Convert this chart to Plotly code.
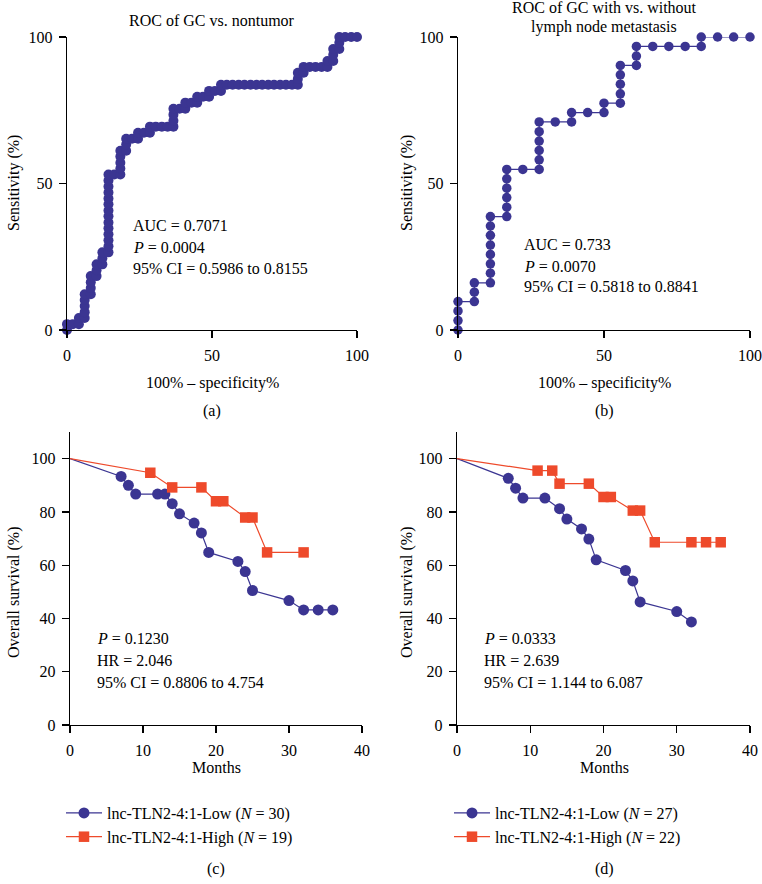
import plotly.graph_objects as go

W, H = 762, 884
BLUE = "#3B3592"
RED = "#EE4A2B"
FONT = "Liberation Serif"
FS = 16

# ---------- (a) ROC of GC vs. nontumor ----------
roc_a_fpr = [0, 0, 2.0, 4.1, 4.1,
             6.1, 6.1, 6.1, 6.1, 6.1,
             8.2, 8.2, 8.2, 8.2,
             10.2, 10.2, 10.2,
             12.2, 12.2, 12.2,
             14.3, 14.3, 14.3, 14.3, 14.3, 14.3, 14.3, 14.3, 14.3, 14.3, 14.3, 14.3, 14.3, 14.3,
             16.3,
             18.4, 18.4, 18.4, 18.4, 18.4,
             20.4, 20.4, 20.4,
             22.4, 24.5, 24.5, 26.5, 28.6, 28.6,
             30.6, 32.7, 34.7,
             36.7, 36.7, 36.7, 36.7,
             38.8, 40.8, 40.8, 42.9, 44.9, 44.9, 46.9, 49.0, 49.0, 51.0, 53.1, 53.1,
             55.1, 57.1, 59.2, 61.2, 63.3, 65.3, 67.3, 69.4, 71.4, 73.5, 75.5, 77.6,
             79.6, 79.6, 79.6, 81.6, 81.6,
             83.7, 85.7, 87.8, 89.8, 89.8,
             91.8, 91.8, 91.8, 93.9, 93.9, 93.9,
             95.9, 98.0, 100]
roc_a_sens = [0, 2.0, 2.0, 2.0, 4.1,
              4.1, 6.1, 8.2, 10.2, 12.2,
              12.2, 14.3, 16.3, 18.4,
              18.4, 20.4, 22.4,
              22.4, 24.5, 26.5,
              26.5, 28.6, 30.6, 32.7, 34.7, 36.7, 38.8, 40.8, 42.9, 44.9, 46.9, 49.0, 51.0, 53.1,
              53.1,
              53.1, 55.1, 57.1, 59.2, 61.2,
              61.2, 63.3, 65.3,
              65.3, 65.3, 67.3, 67.3, 67.3, 69.4,
              69.4, 69.4, 69.4,
              69.4, 71.4, 73.5, 75.5,
              75.5, 75.5, 77.6, 77.6, 77.6, 79.6, 79.6, 79.6, 81.6, 81.6, 81.6, 83.7,
              83.7, 83.7, 83.7, 83.7, 83.7, 83.7, 83.7, 83.7, 83.7, 83.7, 83.7, 83.7,
              83.7, 85.7, 87.8, 87.8, 89.8,
              89.8, 89.8, 89.8, 89.8, 91.8,
              91.8, 93.9, 95.9, 95.9, 98.0, 100,
              100, 100, 100]

# ---------- (b) ROC of GC with vs. without lymph node metastasis ----------
roc_b_fpr = [0, 0, 0, 0,
             5.6, 5.6, 5.6,
             11.1, 11.1, 11.1, 11.1, 11.1, 11.1, 11.1, 11.1,
             16.7, 16.7, 16.7, 16.7, 16.7, 16.7,
             22.2,
             27.8, 27.8, 27.8, 27.8, 27.8, 27.8,
             33.3, 38.9, 38.9, 44.4, 50.0, 50.0,
             55.6, 55.6, 55.6, 55.6, 55.6,
             61.1, 61.1, 61.1,
             66.7, 72.2, 77.8, 83.3, 83.3, 88.9, 94.4, 100]
roc_b_sens = [0, 3.2, 6.5, 9.7,
              9.7, 12.9, 16.1,
              16.1, 19.4, 22.6, 25.8, 29.0, 32.3, 35.5, 38.7,
              38.7, 41.9, 45.2, 48.4, 51.6, 54.8,
              54.8,
              54.8, 58.1, 61.3, 64.5, 67.7, 71.0,
              71.0, 71.0, 74.2, 74.2, 74.2, 77.4,
              77.4, 80.6, 83.9, 87.1, 90.3,
              90.3, 93.5, 96.8,
              96.8, 96.8, 96.8, 96.8, 100, 100, 100, 100]

# ---------- (c) survival ----------
c_low_months = [0, 7, 8, 9, 12, 13, 14, 15, 17, 18, 19, 23, 24, 25, 30, 32, 34, 36]
c_low_surv = [100, 93.3, 90.0, 86.7, 86.7, 86.7, 83.1, 79.3, 75.8, 72.1, 64.8, 61.4, 57.6, 50.5, 46.7, 43.2, 43.2, 43.2]
c_high_months = [0, 11, 14, 18, 20, 21, 24, 25, 27, 32]
c_high_surv = [100, 94.7, 89.2, 89.2, 84.0, 84.0, 77.9, 77.9, 64.8, 64.8]

# ---------- (d) survival ----------
d_low_months = [0, 7, 8, 9, 12, 14, 15, 17, 18, 19, 23, 24, 25, 30, 32]
d_low_surv = [100, 92.6, 88.9, 85.2, 85.2, 81.2, 77.3, 73.6, 69.8, 62.0, 58.0, 54.1, 46.2, 42.6, 38.7]
d_high_months = [0, 11, 13, 14, 18, 20, 21, 24, 25, 27, 32, 34, 36]
d_high_surv = [100, 95.5, 95.5, 90.6, 90.6, 85.6, 85.6, 80.5, 80.5, 68.6, 68.6, 68.6, 68.6]

roc_ticks = [0, 50, 100]
surv_yticks = [0, 20, 40, 60, 80, 100]
surv_xticks = [0, 10, 20, 30, 40]


def px(x):
    return x / W


def py(y):
    return 1 - y / H


fig = go.Figure()

fig.add_trace(go.Scatter(x=roc_a_fpr, y=roc_a_sens, mode="lines+markers",
                         xaxis="x", yaxis="y", showlegend=False, cliponaxis=False,
                         line=dict(color=BLUE, width=1.5),
                         marker=dict(color=BLUE, size=10, symbol="circle")))
fig.add_trace(go.Scatter(x=roc_b_fpr, y=roc_b_sens, mode="lines+markers",
                         xaxis="x2", yaxis="y2", showlegend=False, cliponaxis=False,
                         line=dict(color=BLUE, width=1.2),
                         marker=dict(color=BLUE, size=9.5, symbol="circle")))

fig.add_trace(go.Scatter(x=c_low_months, y=c_low_surv, mode="lines+markers",
                         xaxis="x3", yaxis="y3", cliponaxis=False,
                         name="lnc-TLN2-4:1-Low (<i>N</i> = 30)", legend="legend",
                         line=dict(color=BLUE, width=1.2),
                         marker=dict(color=BLUE, size=11, symbol="circle"),
                         selectedpoints=list(range(1, len(c_low_months)))))
fig.add_trace(go.Scatter(x=c_high_months, y=c_high_surv, mode="lines+markers",
                         xaxis="x3", yaxis="y3", cliponaxis=False,
                         name="lnc-TLN2-4:1-High (<i>N</i> = 19)", legend="legend",
                         line=dict(color=RED, width=1.2),
                         marker=dict(color=RED, size=10.5, symbol="square"),
                         selectedpoints=list(range(1, len(c_high_months)))))
fig.add_trace(go.Scatter(x=d_low_months, y=d_low_surv, mode="lines+markers",
                         xaxis="x4", yaxis="y4", cliponaxis=False,
                         name="lnc-TLN2-4:1-Low (<i>N</i> = 27)", legend="legend2",
                         line=dict(color=BLUE, width=1.2),
                         marker=dict(color=BLUE, size=11, symbol="circle"),
                         selectedpoints=list(range(1, len(d_low_months)))))
fig.add_trace(go.Scatter(x=d_high_months, y=d_high_surv, mode="lines+markers",
                         xaxis="x4", yaxis="y4", cliponaxis=False,
                         name="lnc-TLN2-4:1-High (<i>N</i> = 22)", legend="legend2",
                         line=dict(color=RED, width=1.2),
                         marker=dict(color=RED, size=10.5, symbol="square"),
                         selectedpoints=list(range(1, len(d_high_months)))))

# hide the starting point marker (0, 100) on survival curves
for tr in fig.data[2:]:
    tr.update(selected=dict(marker=dict(opacity=1)), unselected=dict(marker=dict(opacity=0)))

axis_common = dict(showgrid=False, zeroline=False, showline=True, linecolor="black",
                   linewidth=1.3, ticks="outside", ticklen=7, tickwidth=1.3,
                   tickcolor="black", ticklabelstandoff=3, automargin=False,
                   tickfont=dict(family=FONT, size=FS, color="black"), fixedrange=True)

legend_common = dict(xanchor="left", yanchor="top", bgcolor="rgba(0,0,0,0)",
                     font=dict(family=FONT, size=FS, color="black"), itemwidth=36,
                     traceorder="normal", tracegroupgap=0)

fig.update_layout(
    template="none",
    width=W, height=H, paper_bgcolor="white", plot_bgcolor="white",
    margin=dict(l=0, r=0, t=0, b=0, autoexpand=False),
    font=dict(family=FONT, size=FS, color="black"),
    hovermode=False,
    xaxis=dict(domain=[px(67), px(357)], range=[0, 100], tickvals=roc_ticks, anchor="y", **axis_common),
    yaxis=dict(domain=[py(330), py(37)], range=[0, 100], tickvals=roc_ticks, anchor="x", **axis_common),
    xaxis2=dict(domain=[px(458), px(750)], range=[0, 100], tickvals=roc_ticks, anchor="y2", **axis_common),
    yaxis2=dict(domain=[py(330), py(37)], range=[0, 100], tickvals=roc_ticks, anchor="x2", **axis_common),
    xaxis3=dict(domain=[px(70), px(362)], range=[0, 40], tickvals=surv_xticks, anchor="y3", **axis_common),
    yaxis3=dict(domain=[py(725), py(432)], range=[0, 110], tickvals=surv_yticks, anchor="x3", **axis_common),
    xaxis4=dict(domain=[px(457), px(750)], range=[0, 40], tickvals=surv_xticks, anchor="y4", **axis_common),
    yaxis4=dict(domain=[py(725), py(432)], range=[0, 110], tickvals=surv_yticks, anchor="x4", **axis_common),
    legend=dict(x=px(61), y=py(796), **legend_common),
    legend2=dict(x=px(449), y=py(796), **legend_common),
)

anns = []


def txt(text, x, y, xanchor="center", angle=0):
    anns.append(dict(text=text, x=px(x), y=py(y), xref="paper", yref="paper",
                     xanchor=xanchor, yanchor="middle", showarrow=False, textangle=angle,
                     font=dict(family=FONT, size=FS, color="black")))


txt("ROC of GC vs. nontumor", 212, 20)
txt("ROC of GC with vs. without", 604, 8)
txt("lymph node metastasis", 604, 27)

txt("AUC = 0.7071", 131, 225, "left")
txt("<i>P</i> = 0.0004", 131, 247, "left")
txt("95% CI = 0.5986 to 0.8155", 131, 268, "left")

txt("AUC = 0.733", 522, 244, "left")
txt("<i>P</i> = 0.0070", 522, 266, "left")
txt("95% CI = 0.5818 to 0.8841", 522, 287, "left")

txt("<i>P</i> = 0.1230", 95, 638, "left")
txt("HR = 2.046", 95, 660, "left")
txt("95% CI = 0.8806 to 4.754", 95, 682, "left")

txt("<i>P</i> = 0.0333", 482, 638, "left")
txt("HR = 2.639", 482, 660, "left")
txt("95% CI = 1.144 to 6.087", 482, 682, "left")

txt("100% \u2013 specificity%", 212, 383)
txt("100% \u2013 specificity%", 604, 383)
txt("Months", 216, 767)
txt("Months", 604, 767)

txt("Sensitivity (%)", 14, 183, angle=-90)
txt("Sensitivity (%)", 407, 183, angle=-90)
txt("Overall survival (%)", 14, 592, angle=-90)
txt("Overall survival (%)", 407, 592, angle=-90)

txt("(a)", 212, 411)
txt("(b)", 604, 411)
txt("(c)", 216, 869)
txt("(d)", 604, 869)

fig.update_layout(annotations=anns)
fig.write_html("out.html", config={"displayModeBar": False, "staticPlot": True},
               post_script=("document.documentElement.style.margin='0';"
                            "document.body.style.margin='0';"
                            "document.documentElement.style.overflow='hidden';"
                            "document.body.style.overflow='hidden';"))
